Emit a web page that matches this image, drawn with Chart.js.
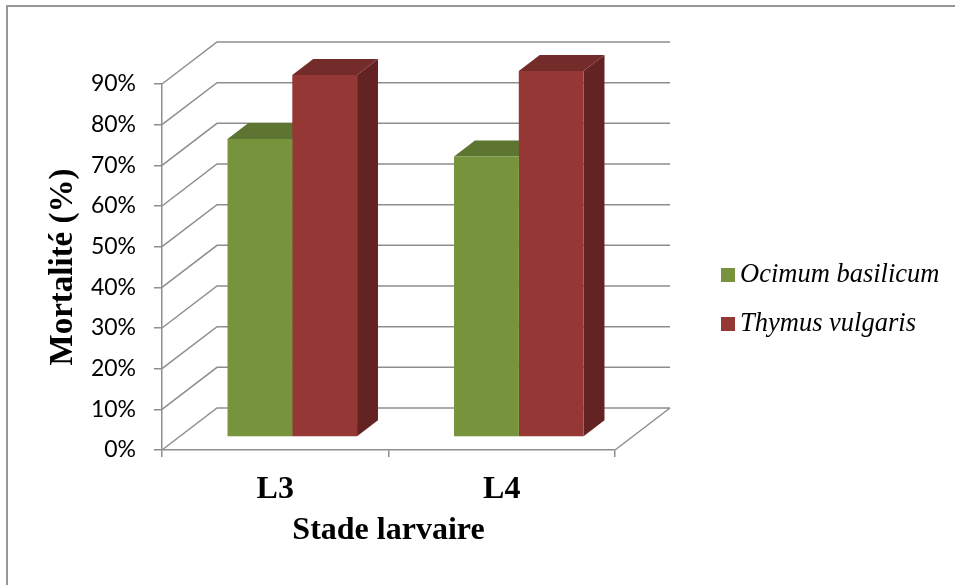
<!DOCTYPE html>
<html>
<head>
<meta charset="utf-8">
<title>Mortalité par stade larvaire</title>
<script src="https://cdn.jsdelivr.net/npm/chart.js@4.4.1/dist/chart.umd.min.js"></script>
<style>
  html, body { margin: 0; padding: 0; background: #ffffff; overflow: hidden; }
  canvas { display: block; }
</style>
</head>
<body>
<canvas id="chart" width="955" height="585"></canvas>
<script>
// Data
const categories = ['L3', 'L4'];
const seriesNames = ['Ocimum basilicum', 'Thymus vulgaris'];
const ocimumValues = [73.3, 69];
const thymusValues = [89, 90];
const yTickValues = [0, 10, 20, 30, 40, 50, 60, 70, 80, 90];

// Styles
const FRONT_COLORS = ['#77933C', '#953735'];
const TOP_COLORS = ['#5E7531', '#742C2A'];
const SIDE_COLORS = ['#4F6228', '#622322'];
const GRID_COLOR = '#8e8e8e';
const SERIF = '"Times New Roman", "Liberation Serif", serif';
const DEPTH = { x: 55, y: -42 };   // offset from the front plane to the back wall
const BAR_FRONT = 0.31;            // depth fraction where the bar fronts sit
const BAR_DEPTH = 0.38;            // depth fraction taken by each bar

function fillPoly(ctx, pts) {
  ctx.beginPath();
  ctx.moveTo(pts[0][0], pts[0][1]);
  for (let k = 1; k < pts.length; k++) ctx.lineTo(pts[k][0], pts[k][1]);
  ctx.closePath();
  ctx.fill();
}

// Draws the 3D walls, bar tops/sides, outer frame and the legend
const depthPlugin = {
  id: 'depth3d',
  beforeDraw(chart) {
    const ctx = chart.ctx;
    ctx.save();
    ctx.strokeStyle = '#979797';
    ctx.lineWidth = 2;
    ctx.beginPath();
    ctx.moveTo(7, chart.height);
    ctx.lineTo(7, 6);
    ctx.lineTo(chart.width, 6);
    ctx.stroke();
    ctx.restore();
  },
  beforeDatasetsDraw(chart) {
    const { ctx, chartArea: a, scales } = chart;
    const yScale = scales.y;
    ctx.save();
    // back wall gridlines with the diagonals on the side wall
    ctx.strokeStyle = GRID_COLOR;
    ctx.lineWidth = 1.5;
    ctx.beginPath();
    yScale.ticks.forEach(t => {
      const py = yScale.getPixelForValue(t.value);
      ctx.moveTo(a.left, py);
      ctx.lineTo(a.left + DEPTH.x, py + DEPTH.y);
      ctx.lineTo(a.right + DEPTH.x, py + DEPTH.y);
    });
    // right edge of the floor
    ctx.moveTo(a.right, a.bottom);
    ctx.lineTo(a.right + DEPTH.x, a.bottom + DEPTH.y);
    ctx.stroke();

    // tops and sides of the columns
    const tx = DEPTH.x * BAR_FRONT, ty = DEPTH.y * BAR_FRONT;
    const dx = DEPTH.x * BAR_DEPTH, dy = DEPTH.y * BAR_DEPTH;
    chart.data.datasets.forEach((ds, i) => {
      chart.getDatasetMeta(i).data.forEach(bar => {
        const p = bar.getProps(['x', 'y', 'base', 'width'], true);
        const L = p.x - p.width / 2 + tx, R = p.x + p.width / 2 + tx;
        const T = p.y + ty, B = p.base + ty;
        ctx.fillStyle = SIDE_COLORS[i];
        fillPoly(ctx, [[R, T], [R, B], [R + dx, B + dy], [R + dx, T + dy]]);
        ctx.fillStyle = TOP_COLORS[i];
        fillPoly(ctx, [[L, T], [R, T], [R + dx, T + dy], [L + dx, T + dy]]);
      });
    });
    ctx.restore();
    // the column fronts are drawn by Chart.js, pushed into the depth
    ctx.save();
    ctx.translate(tx, ty);
  },
  afterDatasetsDraw(chart) {
    chart.ctx.restore();
  },
  afterDraw(chart) {
    const { ctx, chartArea: a } = chart;
    const lx = a.right + 106;
    const ly = 268;
    const step = 49;
    ctx.save();
    ctx.font = 'italic 26.5px ' + SERIF;
    ctx.textBaseline = 'alphabetic';
    ctx.textAlign = 'left';
    chart.data.datasets.forEach((ds, i) => {
      ctx.fillStyle = ds.backgroundColor;
      ctx.fillRect(lx, ly + i * step, 14, 14);
      ctx.fillStyle = '#000000';
      ctx.fillText(ds.label, lx + 19, ly + i * step + 14);
    });
    ctx.restore();
  }
};

new Chart(document.getElementById('chart'), {
  type: 'bar',
  data: {
    labels: categories,
    datasets: [
      { label: seriesNames[0], data: ocimumValues, backgroundColor: FRONT_COLORS[0] },
      { label: seriesNames[1], data: thymusValues, backgroundColor: FRONT_COLORS[1] }
    ]
  },
  options: {
    responsive: false,
    animation: false,
    devicePixelRatio: 1,
    layout: { padding: { left: 8, top: 84, right: 340, bottom: 35 } },
    datasets: {
      bar: { categoryPercentage: 0.572, barPercentage: 1.0, borderWidth: 0 }
    },
    plugins: {
      legend: { display: false },
      tooltip: { enabled: false }
    },
    scales: {
      x: {
        grid: {
          drawOnChartArea: false,
          drawTicks: true,
          tickLength: 7,
          color: GRID_COLOR,
          lineWidth: 1.5,
          offset: true
        },
        border: { display: true, color: GRID_COLOR, width: 1.5 },
        ticks: {
          color: '#000000',
          padding: 14,
          font: { family: SERIF, size: 32, weight: 'bold' }
        },
        title: {
          display: true,
          text: 'Stade larvaire',
          color: '#000000',
          font: { family: SERIF, size: 32, weight: 'bold' },
          padding: { top: 0, bottom: 0 }
        },
        afterFit(scale) { scale.height = 100; }
      },
      y: {
        min: 0,
        max: 90,
        afterBuildTicks(scale) {
          scale.ticks = yTickValues.map(v => ({ value: v }));
        },
        grid: {
          drawOnChartArea: false,
          drawTicks: true,
          tickLength: 8,
          color: GRID_COLOR,
          lineWidth: 1.5
        },
        border: { display: true, color: GRID_COLOR, width: 1.5 },
        ticks: {
          color: '#000000',
          padding: 18,
          font: { family: 'Lato', size: 23 },
          callback: v => v + '%'
        },
        title: {
          display: true,
          text: 'Mortalité (%)',
          color: '#000000',
          font: { family: SERIF, size: 33, weight: 'bold' },
          padding: { top: 36, bottom: 0 }
        },
        afterFit(scale) { scale.width = 154; }
      }
    }
  },
  plugins: [depthPlugin]
});
</script>
</body>
</html>
